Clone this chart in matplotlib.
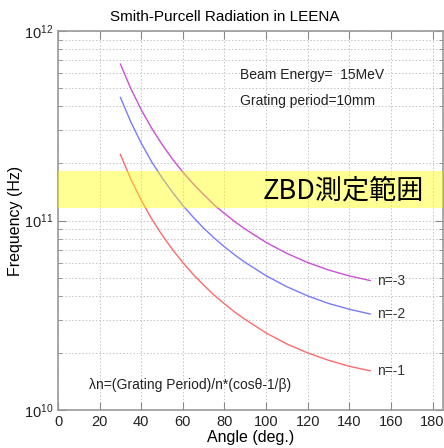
import matplotlib
matplotlib.use("Agg")
import matplotlib.pyplot as plt
from matplotlib.ticker import LogLocator, NullFormatter

plt.rcParams['font.family'] = ['Liberation Sans', 'DejaVu Sans']

# angle (deg) and frequency (Hz)
angle = [30, 35, 40, 45, 50, 55, 60, 65, 70, 75, 80, 85, 90,
         100, 110, 120, 130, 140, 150]
freq_n1 = [223e9, 165e9, 128e9, 102e9, 83.9e9, 70.3e9, 59.9e9, 51.9e9, 45.6e9,
           40.4e9, 36.3e9, 32.8e9, 30.0e9, 25.5e9, 22.3e9, 20.0e9, 18.3e9,
           17.0e9, 16.1e9]
freq_n2 = [446e9, 331e9, 256e9, 204e9, 168e9, 141e9, 120e9, 104e9, 91.1e9,
           80.9e9, 72.6e9, 65.7e9, 60.0e9, 51.1e9, 44.7e9, 40.0e9, 36.5e9,
           34.0e9, 32.1e9]
freq_n3 = [669e9, 496e9, 384e9, 307e9, 252e9, 211e9, 180e9, 156e9, 137e9,
           121e9, 109e9, 98.5e9, 90.0e9, 76.6e9, 67.0e9, 60.0e9, 54.8e9,
           51.0e9, 48.2e9]
series = [("n=-1", freq_n1, "#ff6b6b"),
          ("n=-2", freq_n2, "#7a7aff"),
          ("n=-3", freq_n3, "#cc4fd9")]

# ZBD detector range (Hz)
zbd_low = 1.16e11
zbd_high = 1.82e11

fig = plt.figure(figsize=(4.44, 4.48), dpi=100)
ax = fig.add_axes([58 / 444, 38 / 448, 385 / 444, 379 / 448])

for label, f, col in series:
    ax.plot(angle, f, color=col, lw=1.0, zorder=2)
    ax.text(angle[-1] + 3.5, f[-1], label, fontsize=10, va="center",
            ha="left", color="#333333")

ax.axhspan(zbd_low, zbd_high, color="#ffff00", alpha=0.42, lw=0, zorder=3)
ax.text(176, 1.43e11, "ZBD測定範囲", fontsize=19.5, ha="right", va="center",
        family=['Noto Sans CJK JP', 'DejaVu Sans'], zorder=4)

ax.text(87.5, 5.86e11, "Beam Energy=  15MeV", fontsize=10, va="center",
        color="#222222")
ax.text(87.5, 4.27e11, "Grating period=10mm", fontsize=10, va="center",
        color="#222222")
ax.text(15, 1.36e10, "λn=(Grating Period)/n*(cosθ-1/β)", fontsize=10,
        va="center", color="#222222")

ax.set_yscale("log")
ax.set_xlim(0, 185)
ax.set_ylim(1e10, 1e12)
ax.set_xticks(range(0, 181, 20))
ax.yaxis.set_major_locator(LogLocator(base=10))
ax.yaxis.set_minor_locator(LogLocator(base=10, subs=range(2, 10)))
ax.yaxis.set_minor_formatter(NullFormatter())

ax.grid(True, which="both", ls=(0, (1.5, 2)), color="#c4c4c4", lw=0.7)
ax.tick_params(which="both", direction="in", top=True, right=True,
               colors="#888888", labelcolor="#222222", labelsize=10.5)
ax.tick_params(which="major", length=6)
ax.tick_params(which="minor", length=3)
for sp in ax.spines.values():
    sp.set_color("#999999")
    sp.set_linewidth(1.2)

ax.set_xlabel("Angle (deg.)", fontsize=11.5, labelpad=1)
ax.set_ylabel("Frequency (Hz)", fontsize=11.5)
ax.yaxis.set_label_coords(-0.09, 0.5)
fig.text(225 / 444, 1 - 17 / 448, "Smith-Purcell Radiation in LEENA",
         fontsize=11, ha="center", va="center")

fig.savefig("out.png", dpi=100)
